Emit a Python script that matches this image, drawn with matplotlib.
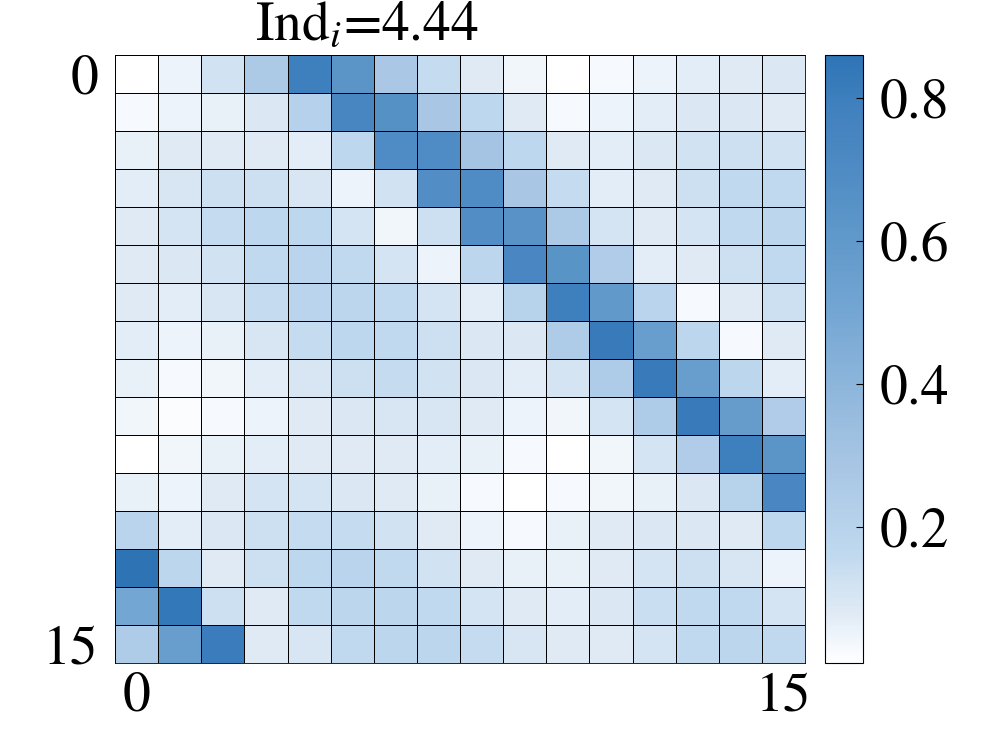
import numpy as np
import matplotlib
matplotlib.use("Agg")
import matplotlib.pyplot as plt
from matplotlib.colors import LinearSegmentedColormap

plt.rcParams['font.family'] = 'STIXGeneral'
plt.rcParams['mathtext.fontset'] = 'stix'

# 16x16 matrix, rows top -> bottom
row00 = [0.01, 0.05, 0.12, 0.26, 0.80, 0.63, 0.27, 0.15, 0.08, 0.04, 0.01, 0.03, 0.05, 0.07, 0.08, 0.09]
row01 = [0.03, 0.05, 0.06, 0.09, 0.21, 0.74, 0.66, 0.28, 0.17, 0.08, 0.03, 0.05, 0.07, 0.09, 0.09, 0.08]
row02 = [0.06, 0.08, 0.08, 0.08, 0.07, 0.17, 0.70, 0.70, 0.30, 0.17, 0.08, 0.07, 0.09, 0.12, 0.13, 0.12]
row03 = [0.07, 0.10, 0.13, 0.13, 0.10, 0.05, 0.12, 0.68, 0.70, 0.28, 0.15, 0.07, 0.08, 0.13, 0.16, 0.16]
row04 = [0.08, 0.11, 0.15, 0.17, 0.17, 0.11, 0.04, 0.13, 0.68, 0.65, 0.26, 0.11, 0.08, 0.11, 0.16, 0.18]
row05 = [0.08, 0.09, 0.12, 0.16, 0.19, 0.16, 0.11, 0.05, 0.18, 0.73, 0.64, 0.24, 0.07, 0.08, 0.13, 0.16]
row06 = [0.08, 0.07, 0.10, 0.15, 0.19, 0.18, 0.16, 0.11, 0.07, 0.20, 0.80, 0.60, 0.19, 0.03, 0.08, 0.13]
row07 = [0.07, 0.05, 0.06, 0.10, 0.15, 0.17, 0.16, 0.13, 0.09, 0.09, 0.25, 0.82, 0.56, 0.18, 0.03, 0.08]
row08 = [0.06, 0.03, 0.04, 0.07, 0.10, 0.13, 0.15, 0.12, 0.09, 0.07, 0.11, 0.25, 0.82, 0.56, 0.18, 0.07]
row09 = [0.04, 0.02, 0.03, 0.05, 0.08, 0.09, 0.10, 0.10, 0.08, 0.05, 0.04, 0.11, 0.25, 0.82, 0.58, 0.24]
row10 = [0.01, 0.04, 0.06, 0.07, 0.08, 0.08, 0.08, 0.07, 0.06, 0.03, 0.01, 0.04, 0.11, 0.24, 0.80, 0.63]
row11 = [0.06, 0.05, 0.08, 0.11, 0.11, 0.09, 0.08, 0.06, 0.03, 0.01, 0.03, 0.04, 0.06, 0.09, 0.20, 0.73]
row12 = [0.19, 0.07, 0.09, 0.13, 0.15, 0.15, 0.12, 0.08, 0.05, 0.03, 0.06, 0.08, 0.09, 0.09, 0.08, 0.17]
row13 = [0.86, 0.18, 0.08, 0.13, 0.17, 0.19, 0.16, 0.12, 0.08, 0.06, 0.06, 0.08, 0.11, 0.13, 0.10, 0.05]
row14 = [0.50, 0.84, 0.13, 0.08, 0.16, 0.18, 0.18, 0.16, 0.11, 0.08, 0.07, 0.09, 0.14, 0.16, 0.16, 0.11]
row15 = [0.25, 0.56, 0.81, 0.08, 0.10, 0.16, 0.18, 0.18, 0.15, 0.10, 0.08, 0.08, 0.11, 0.16, 0.18, 0.16]

tick_pos = [0, 15]
tick_labels = ['0', '15']
cbar_ticks = [0.2, 0.4, 0.6, 0.8]
title_txt = r'Ind$_i$=4.44'

data = np.array([row00, row01, row02, row03, row04, row05, row06, row07,
                 row08, row09, row10, row11, row12, row13, row14, row15])

vmin, vmax = 0.01, 0.86
nodes = [(0.01, '#ffffff'), (0.05, '#ecf3fa'), (0.08, '#dfeaf5'), (0.13, '#cde0f1'),
         (0.17, '#bdd7ee'), (0.25, '#aecbe7'), (0.30, '#a5c4e3'), (0.50, '#74a6d3'),
         (0.63, '#5b95c8'), (0.70, '#4f8bc4'), (0.80, '#3e7fbd'), (0.86, '#2e74b5')]
cmap = LinearSegmentedColormap.from_list(
    'wb', [((v - vmin) / (vmax - vmin), c) for v, c in nodes])

fig = plt.figure(figsize=(9.96, 7.47), dpi=100)
ax = fig.add_axes([115/996, 1-663/747, 690/996, 608/747])
cax = fig.add_axes([825/996, 1-663/747, 38/996, 608/747])

mesh = ax.pcolormesh(np.arange(17) - 0.5, np.arange(17) - 0.5, data, cmap=cmap,
                     vmin=vmin, vmax=vmax, edgecolors='k', linewidth=0.6)
ax.set_xlim(-0.5, 15.5)
ax.set_ylim(15.5, -0.5)
ax.set_xticks(tick_pos)
ax.set_xticklabels(tick_labels)
ax.set_yticks(tick_pos)
ax.set_yticklabels(tick_labels)
ax.tick_params(length=0, labelsize=40)
ax.tick_params(axis='y', pad=12)
ax.tick_params(axis='x', pad=6)
for s in ax.spines.values():
    s.set_linewidth(0.6)

cb = fig.colorbar(mesh, cax=cax, ticks=cbar_ticks)
cb.ax.tick_params(direction='in', length=5, width=0.8, labelsize=40, pad=12)
cb.ax.set_yticklabels(['0.2', '0.4', '0.6', '0.8'])
cb.outline.set_linewidth(0.8)

fig.text(367/996, 1-26/747, title_txt, fontsize=40, ha='center', va='center')

fig.savefig('out.png', dpi=100)
